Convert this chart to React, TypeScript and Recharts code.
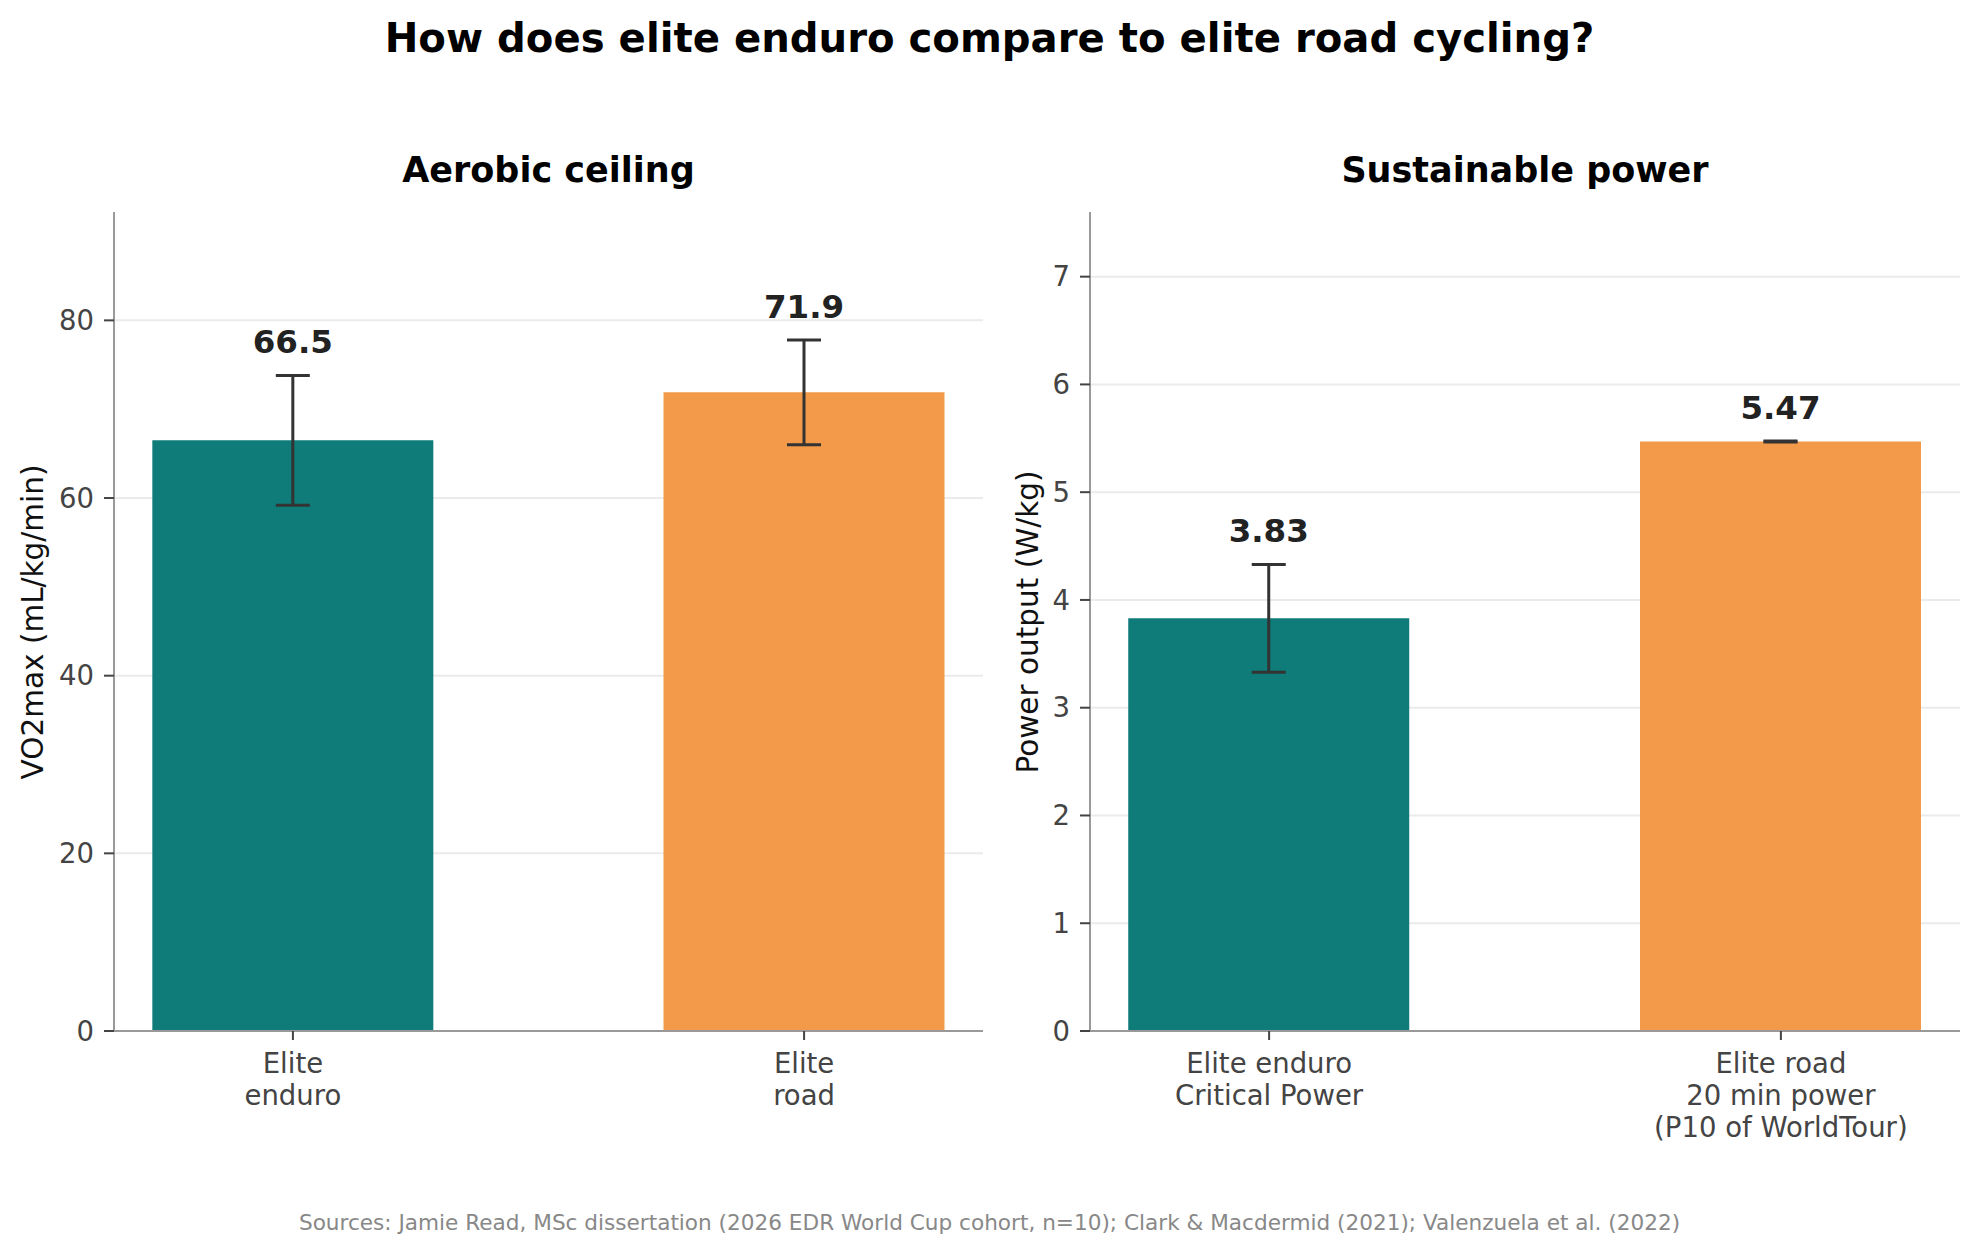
import React from "react";
import { BarChart, Bar, XAxis, YAxis, CartesianGrid, ErrorBar, Cell, LabelList } from "recharts";

const FONT = "'DejaVu Sans', sans-serif";

// left panel: aerobic ceiling
const vo2Categories = ["Elite\nenduro", "Elite\nroad"];
const vo2Values = [66.5, 71.9];
const vo2Errors = [7.3, 5.9];
const vo2Ticks = [0, 20, 40, 60, 80];

// right panel: sustainable power
const powerCategories = ["Elite enduro\nCritical Power", "Elite road\n20 min power\n(P10 of WorldTour)"];
const powerValues = [3.83, 5.47];
const powerErrors = [0.5, 0.005];
const powerTicks = [0, 1, 2, 3, 4, 5, 6, 7];

const barColors = ["#0F7C7A", "#F2994A"];

const XTick = ({ x, y, payload, labels }: any) => {
  const lines: string[] = (labels[payload.value] || "").split("\n");
  return (
    <text x={x} y={y} textAnchor="middle" fill="#444" fontSize={27.5} fontFamily={FONT}>
      {lines.map((l, i) => (
        <tspan key={i} x={x} dy={i === 0 ? 32.7 : 32.3}>
          {l}
        </tspan>
      ))}
    </text>
  );
};

const makeValueLabel = (values: number[], errors: number[], decimals: number) => (props: any) => {
  const vb = props.viewBox && props.viewBox.width !== undefined ? props.viewBox : props;
  const { x, y, width, height } = vb;
  const value = Number(props.value);
  const idx = props.index !== undefined ? props.index : values.indexOf(value);
  const pxPerUnit = height / value;
  const capTop = y - errors[idx] * pxPerUnit;
  return (
    <text
      x={x + width / 2}
      y={capTop - 22}
      textAnchor="middle"
      fontWeight="bold"
      fontSize={32.5}
      fill="#222"
      fontFamily={FONT}
    >
      {value.toFixed(decimals)}
    </text>
  );
};

function Panel({ categories, values, errors, ticks, yMax, left, width, yAxisWidth, marginRight, decimals }: any) {
  const data = values.map((v: number, i: number) => ({ x: i, value: v, err: errors[i] }));
  return (
    <div style={{ position: "absolute", left, top: 0 }}>
      <BarChart
        width={width}
        height={1253}
        data={data}
        margin={{ top: 212, right: marginRight, bottom: 102, left: 0 }}
      >
        <CartesianGrid vertical={false} stroke="#ebebeb" strokeWidth={2} syncWithTicks />
        <XAxis
          dataKey="x"
          type="number"
          domain={[-0.35, 1.35]}
          ticks={[0, 1]}
          height={120}
          axisLine={{ stroke: "#999", strokeWidth: 2 }}
          tickLine={{ stroke: "#444", strokeWidth: 2 }}
          tickSize={9}
          tickMargin={0}
          tick={<XTick labels={categories} />}
          interval={0}
        />
        <YAxis
          type="number"
          domain={[0, yMax]}
          ticks={ticks}
          width={yAxisWidth}
          axisLine={{ stroke: "#999", strokeWidth: 2 }}
          tickLine={{ stroke: "#444", strokeWidth: 2 }}
          tickSize={10}
          tickMargin={10}
          tick={{ fill: "#444", fontSize: 27.5, fontFamily: FONT }}
          allowDataOverflow
        />
        <Bar dataKey="value" barSize={281} isAnimationActive={false}>
          {data.map((_: any, i: number) => (
            <Cell key={i} fill={barColors[i]} />
          ))}
          <ErrorBar dataKey="err" direction="y" width={17} stroke="#333" strokeWidth={3} />
          <LabelList dataKey="value" content={makeValueLabel(values, errors, decimals)} />
        </Bar>
      </BarChart>
    </div>
  );
}

export default function App() {
  return (
    <div
      style={{
        position: "absolute",
        left: 0,
        top: 0,
        width: 1979,
        height: 1253,
        background: "#fff",
        fontFamily: FONT,
      }}
    >
      <Panel
        categories={vo2Categories}
        values={vo2Values}
        errors={vo2Errors}
        ticks={vo2Ticks}
        yMax={92.2}
        left={0}
        width={1000}
        yAxisWidth={114}
        marginRight={17}
        decimals={1}
      />
      <Panel
        categories={powerCategories}
        values={powerValues}
        errors={powerErrors}
        ticks={powerTicks}
        yMax={7.6}
        left={1000}
        width={979}
        yAxisWidth={90}
        marginRight={19}
        decimals={2}
      />
      <svg
        width={1979}
        height={1253}
        style={{ position: "absolute", left: 0, top: 0, pointerEvents: "none" }}
        fontFamily={FONT}
      >
        <text x={989.5} y={52} textAnchor="middle" fontWeight="bold" fontSize={40.2} fill="#000">
          How does elite enduro compare to elite road cycling?
        </text>
        <text x={548.5} y={181.7} textAnchor="middle" fontWeight="bold" fontSize={35} fill="#000">
          Aerobic ceiling
        </text>
        <text x={1525} y={181.7} textAnchor="middle" fontWeight="bold" fontSize={35} fill="#000">
          Sustainable power
        </text>
        <text
          x={43}
          y={622}
          transform="rotate(-90 43 622)"
          textAnchor="middle"
          fontSize={29.5}
          fill="#111"
        >
          VO2max (mL/kg/min)
        </text>
        <text
          x={1038}
          y={622}
          transform="rotate(-90 1038 622)"
          textAnchor="middle"
          fontSize={29.5}
          fill="#111"
        >
          Power output (W/kg)
        </text>
        <text x={989.5} y={1230} textAnchor="middle" fontSize={21.6} fill="#888">
          Sources: Jamie Read, MSc dissertation (2026 EDR World Cup cohort, n=10); Clark &amp; Macdermid (2021); Valenzuela et al. (2022)
        </text>
      </svg>
    </div>
  );
}
